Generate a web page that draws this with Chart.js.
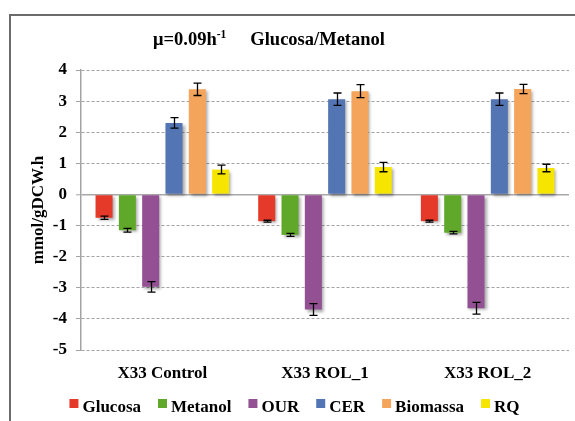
<!DOCTYPE html>
<html>
<head>
<meta charset="utf-8">
<script src="https://cdn.jsdelivr.net/npm/chart.js@4.4.0/dist/chart.umd.min.js"></script>
<style>
  html, body { margin: 0; padding: 0; background: #ffffff; }
  #wrap { width: 575px; height: 421px; position: relative; }
</style>
</head>
<body>
<div id="wrap"><canvas id="c" width="575" height="421"></canvas></div>
<script>
// Strains compared
const categories = ['X33 Control', 'X33 ROL_1', 'X33 ROL_2'];

// Specific rates (mmol/gDCW.h) and their standard deviations
const glucosa     = [-0.75, -0.86, -0.86];
const glucosaErr  = [0.05, 0.03, 0.03];
const metanol     = [-1.15, -1.30, -1.23];
const metanolErr  = [0.06, 0.05, 0.04];
const our         = [-2.97, -3.70, -3.66];
const ourErr      = [0.17, 0.19, 0.19];
const cer         = [2.30, 3.06, 3.06];
const cerErr      = [0.17, 0.20, 0.20];
const biomassa    = [3.38, 3.32, 3.39];
const biomassaErr = [0.20, 0.21, 0.15];
const rq          = [0.80, 0.88, 0.85];
const rqErr       = [0.14, 0.15, 0.12];

// Y axis ticks
const yTicks = [4, 3, 2, 1, 0, -1, -2, -3, -4, -5];

const SERIF = '"Liberation Serif", "Times New Roman", Times, serif';

const series = [
  { label: 'Glucosa',  data: glucosa,  err: glucosaErr,  color: '#E5392A' },
  { label: 'Metanol',  data: metanol,  err: metanolErr,  color: '#5FA829' },
  { label: 'OUR',      data: our,      err: ourErr,      color: '#935193' },
  { label: 'CER',      data: cer,      err: cerErr,      color: '#5475B3' },
  { label: 'Biomassa', data: biomassa, err: biomassaErr, color: '#F4A55B' },
  { label: 'RQ',       data: rq,       err: rqErr,       color: '#F5E500' }
];

// Outer frame of the figure
const framePlugin = {
  id: 'frame',
  beforeDraw(chart) {
    const ctx = chart.ctx;
    ctx.save();
    ctx.strokeStyle = '#6b6b6b';
    ctx.lineWidth = 2;
    ctx.beginPath();
    ctx.moveTo(10, 421);
    ctx.lineTo(10, 15);
    ctx.lineTo(575, 15);
    ctx.stroke();
    ctx.restore();
  }
};

// Soft drop shadow under bars, then error bars on top
const barDecor = {
  id: 'barDecor',
  beforeDatasetsDraw(chart) {
    const ctx = chart.ctx;
    ctx.save();
    ctx.shadowColor = 'rgba(0,0,0,0.35)';
    ctx.shadowOffsetX = 2;
    ctx.shadowOffsetY = 2;
    ctx.shadowBlur = 3;
  },
  afterDatasetsDraw(chart) {
    const ctx = chart.ctx;
    ctx.restore();
    const yScale = chart.scales.y;
    ctx.save();
    ctx.strokeStyle = '#000000';
    ctx.lineWidth = 1.3;
    chart.data.datasets.forEach((ds, i) => {
      const meta = chart.getDatasetMeta(i);
      meta.data.forEach((bar, j) => {
        const v = ds.data[j];
        const e = ds.errorBars[j];
        const yHi = yScale.getPixelForValue(v + e);
        const yLo = yScale.getPixelForValue(v - e);
        const x = Math.round(bar.x) + 0.5;
        ctx.beginPath();
        ctx.moveTo(x, yHi);
        ctx.lineTo(x, yLo);
        ctx.moveTo(x - 4, yHi);
        ctx.lineTo(x + 4, yHi);
        ctx.moveTo(x - 4, yLo);
        ctx.lineTo(x + 4, yLo);
        ctx.stroke();
      });
    });
    ctx.restore();
  }
};

// Title with superscript unit
const titlePlugin = {
  id: 'mainTitle',
  afterDraw(chart) {
    const ctx = chart.ctx;
    const big = 'bold 18.5px ' + SERIF;
    const small = 'bold 11.5px ' + SERIF;
    const partA = '\u03BC=0.09h';
    const sup = '-1';
    const partB = 'Glucosa/Metanol';
    const gap = 24;
    ctx.save();
    ctx.fillStyle = '#000000';
    ctx.textBaseline = 'alphabetic';
    ctx.textAlign = 'left';
    ctx.font = big;
    const wA = ctx.measureText(partA).width;
    const wB = ctx.measureText(partB).width;
    ctx.font = small;
    const wS = ctx.measureText(sup).width;
    const total = wA + wS + gap + wB;
    let x = 269 - total / 2;
    const base = 45;
    ctx.font = big;
    ctx.fillText(partA, x, base);
    x += wA;
    ctx.font = small;
    ctx.fillText(sup, x, base - 7);
    x += wS + gap;
    ctx.font = big;
    ctx.fillText(partB, x, base);
    ctx.restore();
  }
};

// Legend row along the bottom
const legendPlugin = {
  id: 'bottomLegend',
  afterDraw(chart) {
    const ctx = chart.ctx;
    const box = 9, boxGap = 4, itemGap = 17;
    ctx.save();
    ctx.font = 'bold 17px ' + SERIF;
    const items = chart.data.datasets.map(ds => ({
      text: ds.label, color: ds.backgroundColor, w: ctx.measureText(ds.label).width
    }));
    const total = items.reduce((s, it) => s + box + boxGap + it.w, 0) + itemGap * (items.length - 1);
    let x = 294.5 - total / 2;
    const base = 412;
    ctx.textBaseline = 'alphabetic';
    ctx.textAlign = 'left';
    items.forEach(it => {
      ctx.fillStyle = it.color;
      ctx.fillRect(x, base - 13, box, box);
      ctx.fillStyle = '#000000';
      ctx.fillText(it.text, x + box + boxGap, base);
      x += box + boxGap + it.w + itemGap;
    });
    ctx.restore();
  }
};

new Chart(document.getElementById('c'), {
  type: 'bar',
  data: {
    labels: categories,
    datasets: series.map(s => ({
      label: s.label,
      data: s.data,
      errorBars: s.err,
      backgroundColor: s.color,
      borderWidth: 0,
      barPercentage: 0.73,
      categoryPercentage: 0.86
    }))
  },
  options: {
    responsive: false,
    animation: false,
    devicePixelRatio: 1,
    layout: { padding: { top: 70, right: 6, left: 0, bottom: 0 } },
    plugins: {
      legend: { display: false },
      title: { display: false },
      tooltip: { enabled: false }
    },
    scales: {
      x: {
        grid: { display: false, drawTicks: false },
        border: { display: false },
        ticks: {
          padding: 13,
          color: '#000000',
          font: { family: SERIF, size: 17, weight: 'bold' }
        },
        afterFit(s) { s.height = 71; }
      },
      y: {
        min: -5,
        max: 4,
        afterBuildTicks(s) { s.ticks = yTicks.map(v => ({ value: v })); },
        ticks: {
          padding: 9,
          color: '#000000',
          font: { family: SERIF, size: 17, weight: 'bold' }
        },
        grid: {
          color: c => (c.tick && c.tick.value === 0) ? '#a8a8a8' : '#a3a3a3',
          lineWidth: c => (c.tick && c.tick.value === 0) ? 1.6 : 1,
          tickColor: '#a3a3a3',
          tickWidth: 1,
          tickLength: 5,
          tickBorderDash: []
        },
        border: {
          display: true,
          color: '#a3a3a3',
          width: 1.5,
          dash: c => (c.tick && c.tick.value === 0) ? [] : [3, 2]
        },
        title: {
          display: true,
          text: 'mmol/gDCW.h',
          color: '#000000',
          font: { family: SERIF, size: 17, weight: 'bold' },
          padding: { top: 28, bottom: 0 }
        },
        afterFit(s) { s.width = 81; }
      }
    }
  },
  plugins: [framePlugin, barDecor, titlePlugin, legendPlugin]
});
</script>
</body>
</html>
